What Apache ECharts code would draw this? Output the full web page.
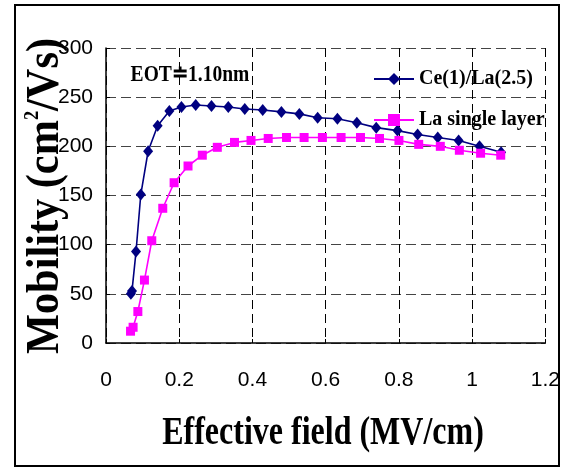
<!DOCTYPE html>
<html>
<head>
<meta charset="utf-8">
<script src="https://cdn.jsdelivr.net/npm/echarts@6.0.0/dist/echarts.min.js"></script>
<style>
  html, body { margin: 0; padding: 0; background: #fff; }
  #main { width: 563px; height: 468px; }
</style>
</head>
<body>
<div id="main"></div>
<script>
// Ce(1)/La(2.5) stack
var ceField = [0.068, 0.071, 0.082, 0.095, 0.115, 0.141, 0.173, 0.206, 0.245, 0.288, 0.334, 0.379, 0.428, 0.479, 0.528, 0.578, 0.632, 0.685, 0.738, 0.796, 0.851, 0.906, 0.963, 1.020, 1.079];
var ceMobility = [50, 53, 93, 151, 195, 221, 236, 240, 242, 241, 240, 238, 237, 235, 233, 229, 228, 224, 219, 216, 212, 209, 206, 200, 194];
// La single layer
var laField = [0.067, 0.074, 0.087, 0.105, 0.125, 0.155, 0.186, 0.224, 0.263, 0.304, 0.351, 0.396, 0.443, 0.493, 0.541, 0.591, 0.642, 0.695, 0.747, 0.800, 0.854, 0.913, 0.965, 1.023, 1.078];
var laMobility = [12, 16, 32, 64, 104, 137, 163, 180, 191, 199, 204, 206, 208, 209, 209, 209, 209, 209, 208, 206, 202, 200, 196, 193, 191];

var seriesNames = ['Ce(1)/La(2.5)', 'La single layer'];
var xTicks = { min: 0, max: 1.2, interval: 0.2 };
var yTicks = { min: 0, max: 300, interval: 50 };

var serif = '"Liberation Serif", "Times New Roman", serif';
var narrow = '"Liberation Sans Narrow", "Arial Narrow", "Liberation Sans", sans-serif';

function pairs(xs, ys) {
    return xs.map(function (x, i) { return [x, ys[i]]; });
}

var myChart = echarts.init(document.getElementById('main'));

var option = {
    backgroundColor: '#fff',
    animation: false,
    grid: { left: 106, right: 17, top: 48, bottom: 125 },
    legend: {
        orient: 'vertical',
        left: 368,
        top: 64,
        itemWidth: 40,
        itemHeight: 15,
        itemGap: 21,
        data: seriesNames,
        textStyle: { fontFamily: serif, fontWeight: 'bold', fontSize: 20, color: '#000' }
    },
    xAxis: {
        type: 'value',
        min: xTicks.min, max: xTicks.max, interval: xTicks.interval,
        axisLine: { show: true, lineStyle: { color: '#000', width: 1.5 } },
        axisTick: { show: true, inside: true, length: 4, lineStyle: { color: '#000' } },
        axisLabel: { margin: 27, fontFamily: narrow, fontSize: 21, color: '#000' },
        splitLine: { show: true, lineStyle: { color: '#000', type: [9, 5], width: 1 } }
    },
    yAxis: {
        type: 'value',
        min: yTicks.min, max: yTicks.max, interval: yTicks.interval,
        axisLine: { show: true, lineStyle: { color: '#000', width: 1.5 } },
        axisTick: { show: true, inside: true, length: 4, lineStyle: { color: '#000' } },
        axisLabel: { margin: 13, fontFamily: narrow, fontSize: 21, color: '#000' },
        splitLine: { show: true, lineStyle: { color: '#444', type: [10, 5], width: 1 } }
    },
    series: [
        {
            name: seriesNames[0],
            type: 'line',
            data: pairs(ceField, ceMobility),
            symbol: 'diamond',
            symbolSize: [10, 12],
            color: '#000080',
            lineStyle: { color: '#000080', width: 1.6 },
            itemStyle: { color: '#000080' }
        },
        {
            name: seriesNames[1],
            type: 'line',
            data: pairs(laField, laMobility),
            symbol: 'rect',
            symbolSize: 9,
            color: '#ff00ff',
            lineStyle: { color: '#ff00ff', width: 1.6 },
            itemStyle: { color: '#ff00ff' }
        }
    ],
    graphic: [
        {
            type: 'rect',
            shape: { x: 15, y: 5, width: 544, height: 461 },
            style: { fill: 'none', stroke: '#000', lineWidth: 2 },
            silent: true
        },
        {
            type: 'text',
            x: 46, y: 196,
            rotation: Math.PI / 2,
            scaleX: 0.92,
            style: {
                text: '{a|Mobility (cm}{s|2}{a|/Vs)}',
                align: 'center',
                verticalAlign: 'middle',
                fill: '#000',
                rich: {
                    a: { fontFamily: serif, fontWeight: 'bold', fontSize: 46, fill: '#000' },
                    s: { fontFamily: serif, fontWeight: 'bold', fontSize: 20, fill: '#000', verticalAlign: 'top' }
                }
            }
        },
        {
            type: 'text',
            x: 323, y: 434,
            scaleX: 0.8,
            style: {
                text: 'Effective field (MV/cm)',
                align: 'center',
                verticalAlign: 'middle',
                fill: '#000',
                fontFamily: serif, fontWeight: 'bold', fontSize: 40
            }
        },
        {
            type: 'text',
            x: 190, y: 75,
            scaleX: 0.85,
            style: {
                text: 'EOT\u22501.10nm',
                align: 'center',
                verticalAlign: 'middle',
                fill: '#000',
                fontFamily: serif, fontWeight: 'bold', fontSize: 23
            }
        }
    ]
};

myChart.setOption(option);
window.onresize = myChart.resize;
</script>
</body>
</html>
